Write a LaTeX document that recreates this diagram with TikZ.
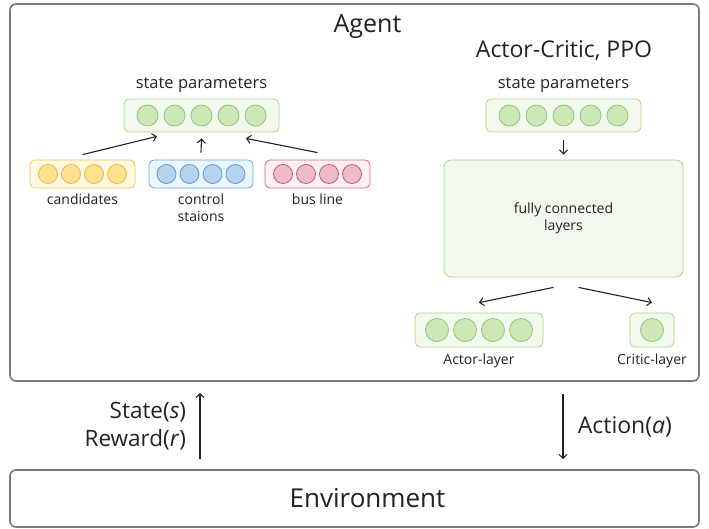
\documentclass[tikz,border=0pt]{standalone}
\usepackage{fontspec}
\setmainfont{Open Sans}
\usetikzlibrary{arrows.meta, positioning}

\definecolor{frameg}{HTML}{7A7A7A}
\definecolor{gfill}{HTML}{F3F9EE}
\definecolor{gline}{HTML}{A9D68C}
\definecolor{gcirc}{HTML}{CDE8B6}
\definecolor{gcline}{HTML}{8FC774}
\definecolor{yfill}{HTML}{FFF8E3}
\definecolor{yline}{HTML}{F0C94E}
\definecolor{ycirc}{HTML}{FFE18E}
\definecolor{ycline}{HTML}{E9B94A}
\definecolor{bfill}{HTML}{EEF6FD}
\definecolor{bline}{HTML}{62A9E0}
\definecolor{bcirc}{HTML}{B5D4EE}
\definecolor{bcline}{HTML}{5A9DD3}
\definecolor{rfill}{HTML}{FDF1F4}
\definecolor{rline}{HTML}{D06A82}
\definecolor{rcirc}{HTML}{EEBCC8}
\definecolor{rcline}{HTML}{C45A73}
\definecolor{txt}{HTML}{222222}

\begin{document}
\begin{tikzpicture}[
  x=1pt, y=-1pt,
  every node/.style={text=txt},
  frame/.style={
    draw=frameg, line width=1.6pt, rounded corners=6pt
  },
  bar/.style={
    draw, line width=0.8pt, rounded corners=5pt,
    minimum height=#1, inner sep=0pt
  },
  cell/.style={
    circle, draw, line width=0.8pt, minimum size=#1, inner sep=0pt
  },
  lbl/.style={font=\fontsize{14}{17}\selectfont, align=center},
  head/.style={font=\fontsize{16.5}{19}\selectfont},
  arr/.style={-{Straight Barb[length=4pt, width=8pt]}, line width=1.1pt, draw=txt}
]
\useasboundingbox (0,0) rectangle (709,529);

% Agent and environment frames
\node[frame, minimum width=689pt, minimum height=377pt] (agent) at (354.5,192.5) {};
\node[font=\fontsize{25}{28}\selectfont] (agentt) at (367.5,27) {Agent};
\node[frame, minimum width=689pt, minimum height=57pt] (env) at (354.5,498.5) {};
\node[font=\fontsize{26}{30}\selectfont] (envt) at (367.5,498) {Environment};

% 1. Input state vectors
\node[bar=33pt, draw=gline, fill=gfill, minimum width=155pt] (sl) at (201.5,115.5) {};
\foreach \i in {1,...,5}
  \node[cell=21pt, draw=gcline, fill=gcirc] (sl\i) at ({201.5+(\i-3)*27},115.5) {};
\node[head, above=3pt of sl] (slt) {state parameters};

\node[bar=28pt, draw=yline, fill=yfill, minimum width=105pt] (cand) at (82.5,174) {};
\node[bar=28pt, draw=bline, fill=bfill, minimum width=104pt] (ctrl) at (201,174) {};
\node[bar=28pt, draw=rline, fill=rfill, minimum width=105pt] (bus) at (317.5,174) {};
\foreach \i in {1,...,4} {
  \node[cell=19pt, draw=ycline, fill=ycirc] (cand\i) at ({82.5+(\i-2.5)*23},174) {};
  \node[cell=19pt, draw=bcline, fill=bcirc] (ctrl\i) at ({201+(\i-2.5)*23},174) {};
  \node[cell=19pt, draw=rcline, fill=rcirc] (bus\i) at ({317.5+(\i-2.5)*23},174) {};
}
\node[lbl, below=2pt of cand, anchor=north] (candt) {candidates};
\node[lbl, below=2pt of ctrl, anchor=north] (ctrlt) {control\\staions};
\node[lbl, below=2pt of bus, anchor=north] (bust) {bus line};

\draw[arr] ([yshift=5pt]cand.north) -- ([xshift=-44.5pt,yshift=-4pt]sl.south);
\draw[arr] ([yshift=7pt]ctrl.north) -- ([yshift=-6pt]sl.south);
\draw[arr] ([yshift=7pt]bus.north) -- ([xshift=44.5pt,yshift=-6pt]sl.south);

% 2. Actor-Critic network
\node[font=\fontsize{23}{26}\selectfont] (acp) at (564,51) {Actor-Critic, PPO};
\node[bar=33pt, draw=gline, fill=gfill, minimum width=155pt] (sr) at (563.5,115.5) {};
\foreach \i in {1,...,5}
  \node[cell=21pt, draw=gcline, fill=gcirc] (sr\i) at ({563.5+(\i-3)*27},115.5) {};
\node[head, above=3pt of sr] (srt) {state parameters};

\node[bar=117pt, draw=gline, fill=gfill, minimum width=239pt, lbl,
      rounded corners=7pt] (fc) at (563.5,218.5) {fully connected\\layers};
\draw[arr] ([yshift=-8pt]sr.south) -- ([yshift=5pt]fc.north);

\node[bar=34pt, draw=gline, fill=gfill, minimum width=128pt] (actor) at (479,330) {};
\foreach \i in {1,...,4}
  \node[cell=23pt, draw=gcline, fill=gcirc] (actor\i) at ({479+(\i-2.5)*28},330) {};
\node[bar=34pt, draw=gline, fill=gfill, minimum width=44pt] (critic) at (652,330) {};
\node[cell=23pt, draw=gcline, fill=gcirc] (critic1) at (critic) {};
\node[lbl, below=3pt of actor, anchor=north] (actort) {Actor-layer};
\node[lbl, below=3pt of critic, anchor=north] (critict) {Critic-layer};

\draw[arr] ([xshift=-10pt,yshift=-10pt]fc.south) -- ([yshift=10pt]actor.north);
\draw[arr] ([xshift=15pt,yshift=-10pt]fc.south) -- ([yshift=10pt]critic.north);

% 3. Interaction with environment
\draw[arr] ([xshift=-154.5pt,yshift=10pt]env.north) -- ([xshift=-154.5pt,yshift=-11pt]agent.south)
  node[midway, left=10pt, align=right, font=\fontsize{22.5}{28}\selectfont] (sr2) {State(\textit{s})\\Reward(\textit{r})};
\draw[arr] ([xshift=208.5pt,yshift=-12pt]agent.south) -- ([xshift=208.5pt,yshift=10pt]env.north)
  node[midway, right=11pt, font=\fontsize{23}{26}\selectfont] (act) {Action(\textit{a})};

\end{tikzpicture}
\end{document}
